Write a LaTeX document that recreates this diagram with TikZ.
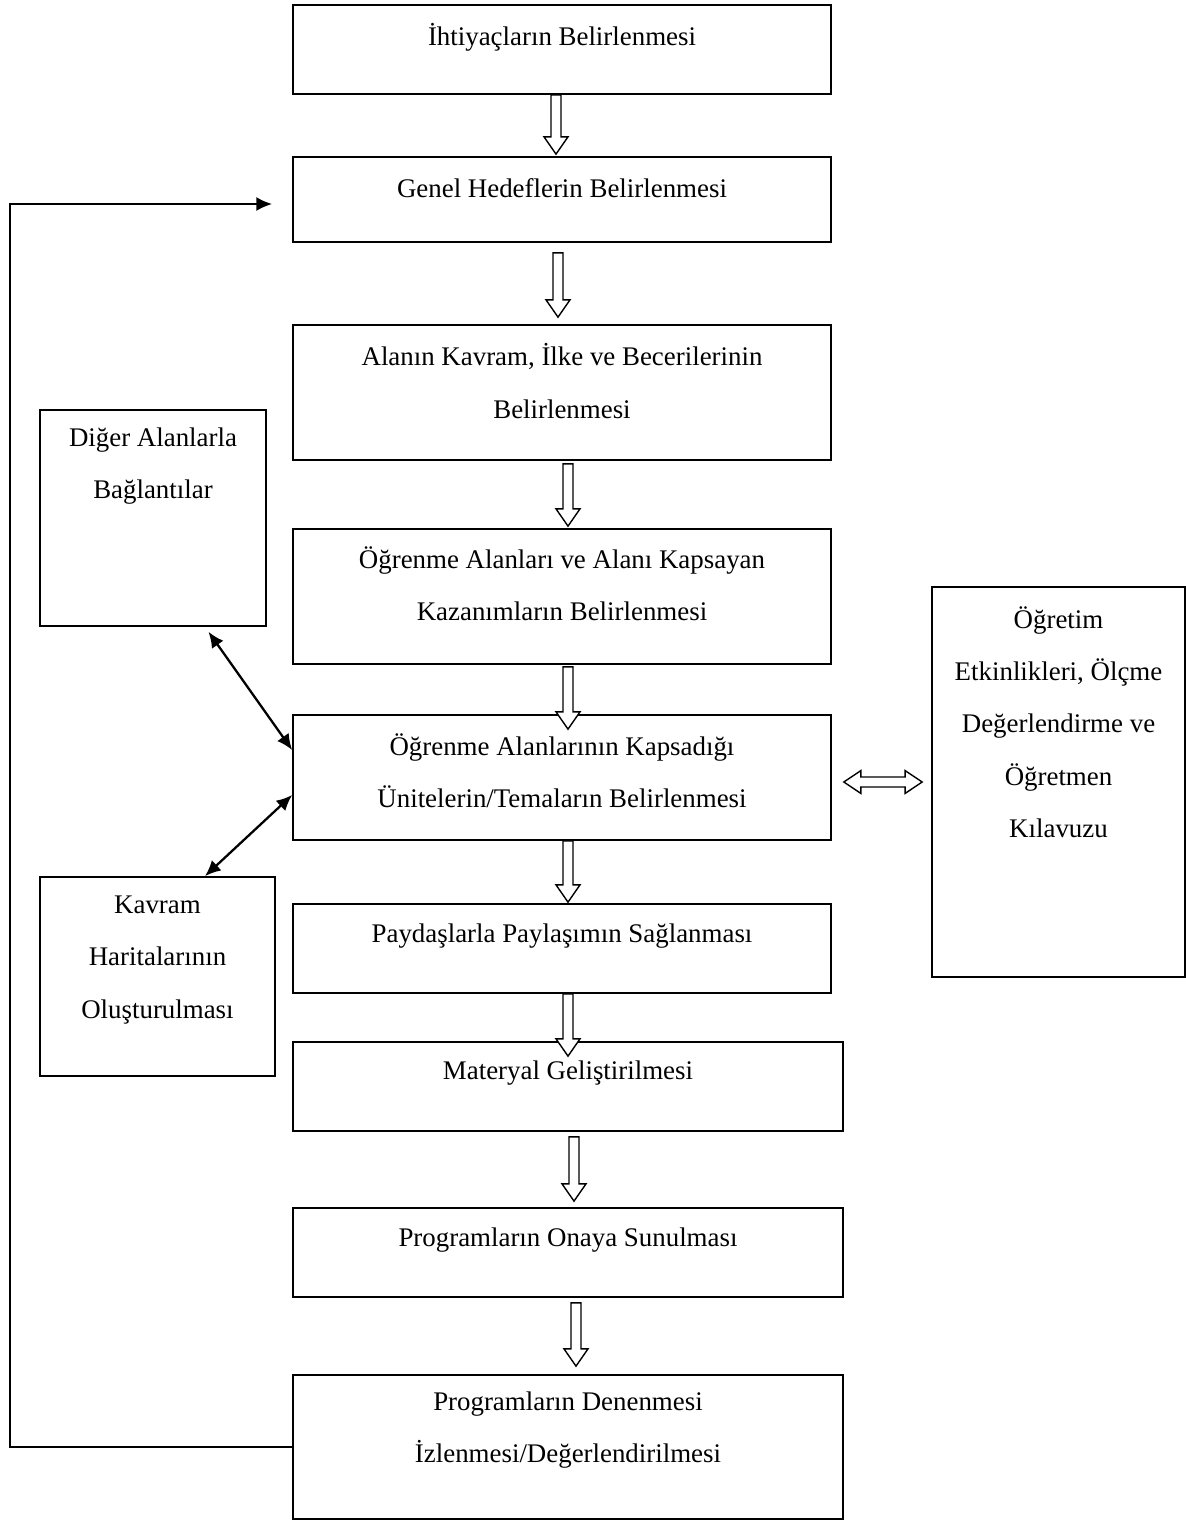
\documentclass[tikz,border=0pt]{standalone}
\usepackage{fontspec}
\setmainfont{Liberation Serif}
\usetikzlibrary{arrows.meta,positioning,calc}
\tikzset{
  stepbox/.style={draw=black, fill=white, line width=1pt,
    minimum width=10.76cm, inner sep=0pt},
  widebox/.style={stepbox, minimum width=11cm},
  sidebox/.style={draw=black, fill=white, line width=1pt, inner sep=0pt},
  boxtext/.style={align=center, inner sep=0pt,
    font=\fontsize{15.3}{29.8}\selectfont},
  % outlined block arrow pointing down
  hollow/.style={draw=black, fill=white, line width=0.8pt, line join=miter,
    to path={let \p1=(\tikztostart), \p2=(\tikztotarget) in
      (\x1-2.85pt,\y1) -- (\x1-2.85pt,\y2+9.8pt) -- (\x1-6.8pt,\y2+9.8pt)
      -- (\x1,\y2) -- (\x1+6.8pt,\y2+9.8pt) -- (\x1+2.85pt,\y2+9.8pt)
      -- (\x1+2.85pt,\y1) -- cycle}},
  % outlined block arrow with two heads, horizontal
  hollowpair/.style={draw=black, fill=white, line width=0.8pt, line join=miter,
    to path={let \p1=(\tikztostart), \p2=(\tikztotarget) in
      (\x1,\y1) -- (\x1+9.7pt,\y1+6.5pt) -- (\x1+9.7pt,\y1+2.85pt)
      -- (\x2-9.7pt,\y1+2.85pt) -- (\x2-9.7pt,\y1+6.5pt) -- (\x2,\y1)
      -- (\x2-9.7pt,\y1-6.5pt) -- (\x2-9.7pt,\y1-2.85pt)
      -- (\x1+9.7pt,\y1-2.85pt) -- (\x1+9.7pt,\y1-6.5pt) -- cycle}},
  link/.style={{Latex[length=9pt,width=8pt]}-{Latex[length=9pt,width=8pt]},
    line width=1.3pt},
  loopline/.style={-{Latex[length=9pt,width=8pt]}, line width=1.3pt}
}
\begin{document}
\begin{tikzpicture}[x=0.02cm, y=-0.02cm]
  \useasboundingbox (0,0) rectangle (1186,1521);
  % main chain
  \node[stepbox, minimum height=1.78cm] (b1) at (562,49.5) {};
  \node[stepbox, minimum height=1.70cm] (b2) at (562,199.5) {};
  \node[stepbox, minimum height=2.70cm] (b3) at (562,392.5) {};
  \node[stepbox, minimum height=2.70cm] (b4) at (562,596.5) {};
  \node[stepbox, minimum height=2.50cm] (b5) at (562,777.5) {};
  \node[stepbox, minimum height=1.78cm] (b6) at (562,948.5) {};
  \node[widebox, minimum height=1.78cm] (b7) at (568,1086.5) {};
  \node[widebox, minimum height=1.78cm] (b8) at (568,1252.5) {};
  \node[widebox, minimum height=2.88cm] (b9) at (568,1447) {};
  % side boxes
  \node[sidebox, minimum width=4.52cm, minimum height=4.32cm] (dig) at (153,518) {};
  \node[sidebox, minimum width=4.70cm, minimum height=3.98cm] (kav) at (157.5,976.5) {};
  \node[sidebox, minimum width=5.06cm, minimum height=7.80cm] (ogr) at (1058.5,782) {};

  \node[boxtext] (t1) at (562,37) {İhtiyaçların Belirlenmesi};
  \node[boxtext] (t2) at (562,188) {Genel Hedeflerin Belirlenmesi};
  \node[boxtext] (t3) at (562,381) {Alanın Kavram, İlke ve Becerilerinin\\Belirlenmesi};
  \node[boxtext] (t4) at (562,584) {Öğrenme Alanları ve Alanı Kapsayan\\Kazanımların Belirlenmesi};
  \node[boxtext] (t5) at (562,771) {Öğrenme Alanlarının Kapsadığı\\Ünitelerin/Temaların Belirlenmesi};
  \node[boxtext] (t6) at (562,936) {Paydaşlarla Paylaşımın Sağlanması};
  \node[boxtext] (t7) at (568,1073) {Materyal Geliştirilmesi};
  \node[boxtext] (t8) at (568,1240) {Programların Onaya Sunulması};
  \node[boxtext] (t9) at (568,1430) {Programların Denenmesi\\İzlenmesi/Değerlendirilmesi};
  \node[boxtext] (tdig) at (153,466) {Diğer Alanlarla\\Bağlantılar};
  \node[boxtext] (tkav) at (157.5,960) {Kavram\\Haritalarının\\Oluşturulması};
  \node[boxtext] (togr) at (1058.5,722) {Öğretim\\Etkinlikleri, Ölçme\\Değerlendirme ve\\Öğretmen\\Kılavuzu};

  % hollow arrows between steps
  \draw[hollow] ([xshift=-0.12cm]b1.south) to ([xshift=-0.12cm, yshift=0.04cm]b2.north);
  \draw[hollow] ([xshift=-0.08cm, yshift=-0.2cm]b2.south) to ([xshift=-0.08cm, yshift=0.14cm]b3.north);
  \draw[hollow] ([xshift=0.12cm, yshift=-0.06cm]b3.south) to ([xshift=0.12cm, yshift=0.04cm]b4.north);
  \draw[hollow] ([xshift=0.12cm, yshift=-0.04cm]b4.south) to ([xshift=0.12cm, yshift=-0.3cm]b5.north);
  \draw[hollow] ([xshift=0.12cm]b5.south) to ([xshift=0.12cm, yshift=0.02cm]b6.north);
  \draw[hollow] ([xshift=0.12cm]b6.south) to ([yshift=-0.3cm]b7.north);
  \draw[hollow] ([xshift=0.12cm, yshift=-0.1cm]b7.south) to ([xshift=0.12cm, yshift=0.12cm]b8.north);
  \draw[hollow] ([xshift=0.16cm, yshift=-0.1cm]b8.south) to ([xshift=0.16cm, yshift=0.16cm]b9.north);
  \draw[hollowpair] ([xshift=0.24cm]b5.east |- ogr.west) to ([xshift=-0.18cm]ogr.west);

  % links to side boxes
  \draw[link, shorten <=0.12cm] ([xshift=1.04cm]dig.south) -- ([yshift=0.55cm]b5.west);
  \draw[link] ([xshift=0.95cm]kav.north) -- ([yshift=-0.35cm]b5.west);

  % feedback loop
  \coordinate (back) at (10,1445);
  \draw[loopline, shorten >=0.4cm] (b9.west) -- (b9.west -| back) |- ([yshift=-0.09cm]b2.west);
\end{tikzpicture}
\end{document}
